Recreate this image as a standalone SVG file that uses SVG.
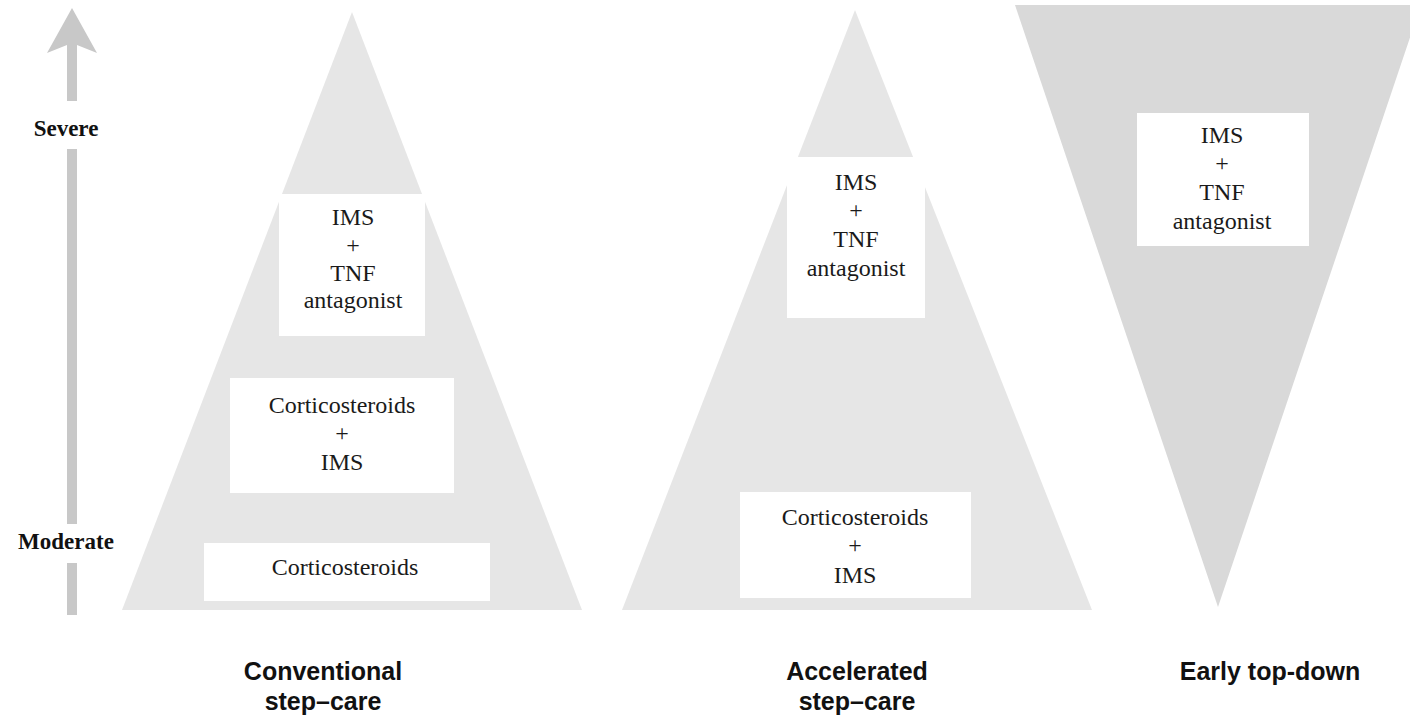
<svg xmlns="http://www.w3.org/2000/svg" width="1410" height="715" viewBox="0 0 1410 715">
<style>
.tri{fill:#e6e6e6}
.tri-dark{fill:#d9d9d9}
.box{fill:#ffffff}
.bt{font-family:"Liberation Serif","Times New Roman",serif;font-size:24px;fill:#1a1a1a;text-anchor:middle}
.ax{font-family:"Liberation Serif","Times New Roman",serif;font-size:23px;font-weight:bold;fill:#111;text-anchor:middle}
.cap{font-family:"Liberation Sans",Arial,sans-serif;font-size:25px;font-weight:bold;fill:#111;text-anchor:middle}
.shaft{fill:#c8c8c8}
</style>
<rect width="1410" height="715" fill="#ffffff"/>

<g id="axis">
  <polygon class="shaft" points="72,8 97,53 77,45 77,101 67,101 67,45 47,53"/>
  <rect class="shaft" x="67" y="149" width="10" height="375"/>
  <rect class="shaft" x="67" y="563" width="10" height="52"/>
  <text class="ax" x="66" y="136">Severe</text>
  <text class="ax" x="66" y="549">Moderate</text>
</g>

<g id="conventional">
  <polygon class="tri" points="352,12 582,610 122,610"/>
  <g id="conv-box1">
    <rect class="box" x="279" y="194" width="146" height="142"/>
    <text class="bt" x="353" y="225">IMS</text>
    <text class="bt" x="353" y="253">+</text>
    <text class="bt" x="353" y="281">TNF</text>
    <text class="bt" x="353" y="308">antagonist</text>
  </g>
  <g id="conv-box2">
    <rect class="box" x="230" y="378" width="224" height="115"/>
    <text class="bt" x="342" y="413">Corticosteroids</text>
    <text class="bt" x="342" y="441">+</text>
    <text class="bt" x="342" y="470">IMS</text>
  </g>
  <g id="conv-box3">
    <rect class="box" x="204" y="543" width="286" height="58"/>
    <text class="bt" x="345" y="575">Corticosteroids</text>
  </g>
  <text class="cap" x="323" y="680">Conventional</text>
  <text class="cap" x="323" y="710">step–care</text>
</g>

<g id="accelerated">
  <polygon class="tri" points="855,10 1092,610 622,610"/>
  <g id="acc-box1">
    <rect class="box" x="787" y="157" width="138" height="161"/>
    <text class="bt" x="856" y="190">IMS</text>
    <text class="bt" x="856" y="218">+</text>
    <text class="bt" x="856" y="247">TNF</text>
    <text class="bt" x="856" y="276">antagonist</text>
  </g>
  <g id="acc-box2">
    <rect class="box" x="740" y="492" width="231" height="106"/>
    <text class="bt" x="855" y="525">Corticosteroids</text>
    <text class="bt" x="855" y="553">+</text>
    <text class="bt" x="855" y="583">IMS</text>
  </g>
  <text class="cap" x="857" y="680">Accelerated</text>
  <text class="cap" x="857" y="710">step–care</text>
</g>

<g id="topdown">
  <polygon class="tri-dark" points="1015,5 1421,5 1218,607"/>
  <g id="td-box">
    <rect class="box" x="1137" y="113" width="172" height="133"/>
    <text class="bt" x="1222" y="143">IMS</text>
    <text class="bt" x="1222" y="171">+</text>
    <text class="bt" x="1222" y="200">TNF</text>
    <text class="bt" x="1222" y="229">antagonist</text>
  </g>
  <text class="cap" x="1270" y="680">Early top-down</text>
</g>

<g id="connectors"></g>
</svg>
